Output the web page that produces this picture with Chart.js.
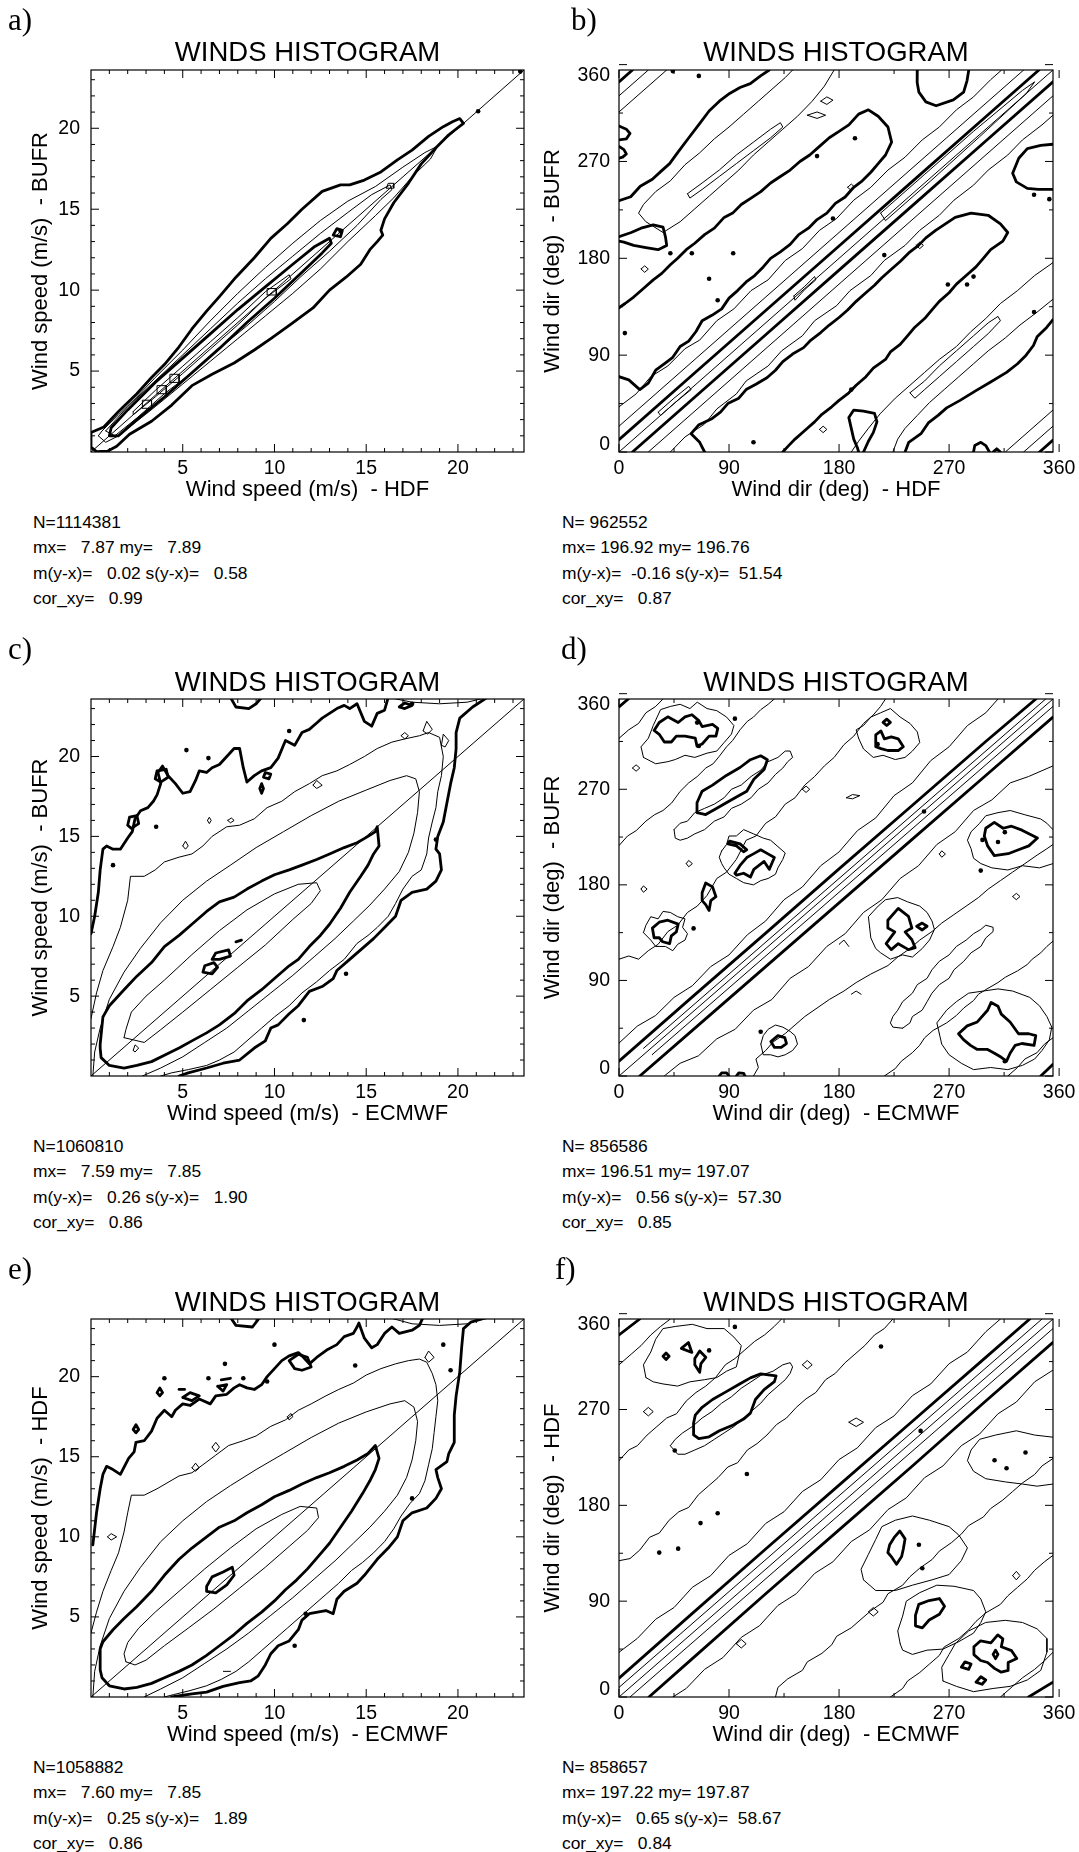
<!DOCTYPE html>
<html>
<head>
<meta charset="utf-8">
<script src="https://cdn.jsdelivr.net/npm/chart.js@4.4.1/dist/chart.umd.min.js"></script>
<style>
  body { margin: 0; background: #fff; width: 1079px; height: 1852px; position: relative; overflow: hidden; }
  canvas { position: absolute; }
  .tag { position: absolute; font-family: "Liberation Serif", "Times New Roman", serif; font-size: 31px; line-height: 31px; color: #000; }
  .stats { position: absolute; font-family: "Liberation Sans", Arial, sans-serif; font-size: 17.4px; line-height: 25.6px; white-space: pre; color: #000; }
</style>
</head>
<body>
<script>
const FONT = '"Liberation Sans", Arial, Helvetica, sans-serif';

// axis extents and tick values
const speedMax = 23.6;
const dirMax = 355;
const speedLabels = [5, 10, 15, 20];
const speedMinor = [1, 2, 3, 4, 6, 7, 8, 9, 11, 12, 13, 14, 16, 17, 18, 19, 21, 22, 23];
const dirLabels = [0, 90, 180, 270, 360];
const dirMinor = [45, 135, 225, 315];

// statistics printed under each panel
const statsA = ['N=1114381', 'mx=   7.87 my=   7.89', 'm(y-x)=   0.02 s(y-x)=   0.58', 'cor_xy=   0.99'];
const statsB = ['N= 962552', 'mx= 196.92 my= 196.76', 'm(y-x)=  -0.16 s(y-x)=  51.54', 'cor_xy=   0.87'];
const statsC = ['N=1060810', 'mx=   7.59 my=   7.85', 'm(y-x)=   0.26 s(y-x)=   1.90', 'cor_xy=   0.86'];
const statsD = ['N= 856586', 'mx= 196.51 my= 197.07', 'm(y-x)=   0.56 s(y-x)=  57.30', 'cor_xy=   0.85'];
const statsE = ['N=1058882', 'mx=   7.60 my=   7.85', 'm(y-x)=   0.25 s(y-x)=   1.89', 'cor_xy=   0.86'];
const statsF = ['N= 858657', 'mx= 197.22 my= 197.87', 'm(y-x)=   0.65 s(y-x)=  58.67', 'cor_xy=   0.84'];

// ---- a) speed BUFR vs HDF : contour lines [x, y]
const aThick = [
  [[0,1.2],[0.7,1.55],[1.5,2.5],[2.5,3.6],[3.3,4.6],[4.0,5.4],[4.8,6.5],[5.5,7.6],[6.3,8.7],[7.0,9.6],[7.9,10.8],[8.9,12.0],[9.8,13.2],[10.7,14.1],[11.5,15.0],[12.6,16.1],[13.6,16.5],[14.1,16.5],[14.9,16.8],[15.8,17.3],[16.7,18.05],[17.5,18.65],[18.4,19.5],[19.2,20.1],[19.7,20.4],[20.1,20.6],[20.3,20.3],[19.5,19.6],[18.8,18.8],[18.0,17.8],[17.3,16.6],[16.5,15.4],[16.0,14.4],[15.8,13.7],[15.9,13.4],[15.6,13.0],[15.2,12.5],[14.7,11.6],[13.9,10.8],[13.0,10.0],[12.1,8.9],[10.9,7.9],[9.8,7.0],[8.9,6.3],[7.8,5.5],[6.6,4.8],[5.5,4.1],[4.4,2.9],[3.3,1.9],[2.1,1.1],[1.4,0.36],[0.9,0.05],[0.3,0.02],[0,0.3],[0,1.2]],
  [[1.0,1.0],[1.1,1.5],[2,2.6],[3.5,4.3],[5,5.8],[6.5,7.3],[8,8.8],[9.5,10.2],[11,11.6],[12.2,12.7],[13.0,13.2],[13.1,12.9],[12.6,12.3],[11.5,11.1],[10,9.5],[8.5,8.0],[7,6.4],[5.5,4.9],[4,3.4],[2.5,2.0],[1.5,1.0],[1.0,1.0]],
  [[13.2,13.4],[13.4,13.8],[13.7,13.7],[13.6,13.3],[13.2,13.4]]
];
const aThin = [
  [[0.4,1.0],[0.6,1.3],[1.5,2.3],[2.5,3.4],[3.5,4.6],[5,6.3],[6.5,8.1],[8,9.8],[9.5,11.4],[11,12.9],[12.5,14.3],[14,15.5],[15.5,16.4],[17,17.6],[18.2,18.5],[18.9,18.9],[18.5,18.1],[17.5,17.0],[16.5,15.7],[15.5,14.6],[14,13.0],[12.5,11.3],[11,9.8],[9.5,8.4],[8,7.0],[6.5,5.6],[5,4.2],[3.5,2.8],[2.5,1.9],[1.5,1.0],[0.8,0.6],[0.4,1.0]],
  [[0.8,1.3],[2,2.8],[3.5,4.4],[5,6.0],[6.5,7.6],[8,9.2],[9.5,10.7],[11,12.1],[12.5,13.5],[14,14.8],[15.3,15.9],[16.3,16.5],[16.4,16.2],[15.8,15.6],[14.5,14.0],[13,12.4],[11.5,10.9],[10,9.3],[8.5,7.8],[7,6.4],[5.5,4.9],[4,3.6],[2.5,2.1],[1.3,1.0],[0.8,1.3]],
  [[2.3,2.5],[3.5,3.8],[5,5.3],[6.5,6.8],[8,8.3],[9.5,9.9],[10.8,10.95],[10.9,10.7],[9.5,9.5],[8,7.85],[6.5,6.35],[5,4.85],[3.5,3.4],[2.3,2.3],[2.3,2.5]],
  [[2.8,2.7],[2.8,3.2],[3.3,3.2],[3.3,2.7],[2.8,2.7]],
  [[3.6,3.6],[3.6,4.1],[4.1,4.1],[4.1,3.6],[3.6,3.6]],
  [[4.3,4.3],[4.3,4.8],[4.8,4.8],[4.8,4.3],[4.3,4.3]],
  [[9.6,9.7],[9.6,10.1],[10.1,10.1],[10.1,9.7],[9.6,9.7]],
  [[16.1,16.3],[16.2,16.6],[16.5,16.6],[16.5,16.3],[16.1,16.3]]
];
const aDots = [[13.6,13.65],[21.1,21.05],[23.4,23.5]];

// ---- b) direction BUFR vs HDF
const bThick = [
  [[0,11.5],[60,71.5],[120,131.5],[180,191.5],[240,251.5],[300,311.5],[343.5,355]],
  [[11,0],[60,49],[120,109],[180,169],[240,229],[300,289],[355,344]],
  [[0,344],[11,355]], [[344,0],[355,11]],
  [[0,233.6],[9.6,237.2],[17.4,247],[27.3,253.5],[34.3,260.8],[41.4,268],[48.4,278.9],[56.8,291.6],[65.3,304.2],[73.7,316.9],[82.1,326],[90.5,333.2],[99,338.7],[107.4,342.3],[115.8,349.5],[122.9,355]],
  [[234,0],[237,9],[247,17],[253,27],[261,34],[268,41],[279,48],[292,57],[304,65],[317,74],[326,82],[333,90],[339,99],[342,107],[350,116],[355,123]],
  [[0,70],[8,67],[17,58],[24,64],[30,76],[37,82],[44,88],[50,98],[57,103],[63,112],[68,122],[76,127],[84,133],[90,143],[97,150],[104,158],[111,164],[118,172],[124,180],[132,186],[140,193],[147,202],[155,208],[162,216],[170,222],[177,231],[185,237],[192,246],[199,252],[206,260],[212,268],[218,276],[223,288],[220,302],[212,312],[204,318],[196,314],[188,304],[180,298],[172,292],[164,284],[156,276],[148,270],[140,262],[132,256],[124,250],[116,242],[108,236],[100,230],[93,222],[86,218],[78,208],[70,202],[62,194],[55,188],[48,180],[42,174],[35,166],[28,160],[20,152],[12,144],[5,138],[0,134]],
  [[244,355],[243.9,343.4],[245.3,334.4],[251,325.4],[259.4,321.8],[273.5,327.2],[281.9,334.4],[284.7,345.2],[286.1,355]],
  [[70,0],[66,9],[59,17],[65,25],[76,31],[83,37],[89,45],[98,50],[104,58],[112,63],[121,69],[128,76],[134,84],[142,91],[151,97],[157,104],[165,111],[172,118],[180,125],[187,132],[194,140],[201,147],[209,155],[215,162],[223,170],[230,177],[237,185],[245,192],[251,199],[259,206],[267,212],[275,218],[288,222],[302,220],[312,212],[318,204],[314,196],[304,188],[298,180],[292,172],[284,164],[276,156],[270,148],[262,140],[256,132],[250,124],[242,116],[236,108],[230,100],[222,93],[218,86],[208,78],[202,70],[194,62],[188,55],[180,48],[174,42],[166,35],[160,28],[152,20],[144,12],[138,5],[134,0]],
  [[355,244],[343,244],[334,245],[325,251],[322,259],[327,273],[334,282],[345,285],[355,286]],
  [[0,303],[6,300],[9,296],[6,291],[0,290]], [[0,284],[4,281],[6,277],[3,274],[0,273]],
  [[303,0],[300,6],[296,9],[291,6],[290,0]], [[306,0],[309,3],[312,0]],
  [[0,200],[10,204],[18,208],[28,211],[36,209],[38,200],[39,192],[32,188],[22,190],[12,192],[4,195],[0,196]],
  [[200,0],[204,10],[208,18],[211,28],[209,36],[200,38],[192,39],[188,32],[190,22],[192,12],[195,4],[196,0]]
];
const bThin = [
  [[0,24],[331,355]], [[24,0],[355,331]],
  [[0,42],[14,54],[26,70],[40,80],[54,96],[66,104],[80,122],[94,133],[108,150],[122,160],[136,178],[150,189],[164,206],[178,217],[192,234],[206,246],[220,262],[234,274],[248,290],[262,302],[276,318],[290,330],[304,346],[313,355]],
  [[42,0],[54,14],[70,26],[80,40],[96,54],[104,66],[122,80],[133,94],[150,108],[160,122],[178,136],[189,150],[206,164],[217,178],[234,192],[246,206],[262,220],[274,234],[290,248],[302,262],[318,276],[330,290],[346,304],[355,313]],
  [[0,331],[24,355]], [[0,316],[39,355]], [[331,0],[355,24]], [[316,0],[355,39]],
  [[32,37],[45,50],[57,61],[59,58],[46,46],[34,34],[32,37]],
  [[143,145],[152,154],[160,163],[161,160],[152,151],[144,141],[143,145]],
  [[214,222],[250,258],[290,298],[330,336],[340,344],[333,333],[295,293],[255,252],[218,215],[214,222]],
  [[142,355],[136,348],[126,338],[114,326],[102,314],[90,302],[78,291],[66,278],[54,267],[42,252],[30,242],[20,230],[16,222],[22,214],[36,204],[50,214],[62,226],[74,238],[86,250],[98,262],[110,276],[122,288],[134,300],[146,312],[158,326],[168,340],[176,355]],
  [[56,240],[68,250],[82,262],[96,276],[110,288],[124,300],[132,306],[134,302],[124,292],[110,280],[96,268],[82,256],[68,244],[58,236],[56,240]],
  [[355,176],[340,164],[326,150],[312,138],[300,124],[288,112],[276,98],[262,86],[250,74],[238,62],[226,50],[214,36],[204,22],[196,10],[190,0]],
  [[355,142],[342,130],[328,118],[316,106],[302,94],[290,82],[278,70],[266,58],[254,46],[244,34],[234,22],[228,12],[224,0]],
  [[238,55],[250,66],[262,80],[276,94],[290,108],[302,120],[310,126],[312,122],[302,110],[290,98],[276,84],[262,70],[250,58],[242,50],[238,55]],
  [[165,326],[170,330],[175,327],[170,323],[165,326]],
  [[154,313],[162,316],[169,313],[162,310],[154,313]],
  [[18,170],[21,173],[24,170],[21,167],[18,170]],
  [[164,21],[167,24],[170,21],[167,18],[164,21]],
  [[243,192],[246,195],[249,192],[246,189],[243,192]],
  [[187,246],[190,249],[193,246],[190,243],[187,246]]
];
const bDots = [[65.3,349.5],[44,354],[42,184.7],[59.6,184.7],[73.7,161],[80.7,141],[4.8,110.5],[110,9],[190,58],[175,217],[162,275],[193,291.6],[269,155.7],[284.7,155.7],[290,163],[339.5,130],[339.5,239],[352,235],[93.4,184.7],[217,183]];

// ---- c) speed BUFR vs ECMWF
const cThick = [
  [[0,8.9],[0.2,10],[0.4,11.5],[0.5,12.9],[0.65,14.2],[0.85,14.4],[1.2,14.2],[1.6,14.2],[2.0,14.9],[2.25,15.3],[2.4,16.1],[2.7,16.6],[3.1,16.8],[3.4,17.2],[3.6,17.6],[3.8,18.3],[3.65,19.0],[3.9,19.4],[4.2,18.8],[4.6,18.3],[5.0,17.7],[5.4,17.8],[5.7,18.5],[5.9,19.1],[6.3,19.0],[6.6,19.3],[7.0,19.5],[7.4,20.0],[7.8,20.5],[8.1,20.5],[8.3,19.3],[8.5,18.4],[8.9,18.8],[9.3,19.1],[9.8,19.3],[10.2,19.9],[10.6,21.0],[11.1,20.7],[11.5,21.5],[11.9,21.7],[12.3,22.1],[12.6,22.4],[13.0,22.7],[13.4,23.0],[13.8,23.2],[14.1,23.0],[14.5,23.3],[14.9,22.2],[15.3,21.9],[15.6,22.7],[16.0,22.9],[16.2,23.7]],
  [[21.6,23.7],[20.8,23.1],[20.1,22.4],[19.9,21.5],[19.9,20.5],[19.8,19.3],[19.6,18.3],[19.4,17.1],[19.2,15.9],[18.9,15.0],[18.8,14.2],[19.0,13.9],[19.1,12.9],[18.8,12.2],[18.3,11.7],[17.5,11.5],[16.9,11.0],[16.6,10.0],[16.0,9.3],[15.4,8.6],[14.9,8.1],[14.1,7.3],[13.4,6.6],[13.2,6.1],[12.6,5.6],[11.9,5.3],[11.3,4.4],[10.8,3.9],[10.2,3.2],[9.8,3.0],[9.5,2.2],[8.9,1.75],[8.1,1.0],[7.2,0.8],[6.3,0.5],[5.3,0.2],[4.8,0]],
  [[7.6,23.7],[7.9,23.1],[8.6,23.0],[9.0,23.3],[9.3,23.7]],
  [[16.8,23.1],[17.1,23.35],[17.5,23.2],[17.1,23.0],[16.8,23.1]],
  [[0.5,1.75],[0.5,2.0],[0.65,3.7],[1.0,4.4],[1.8,5.4],[2.5,6.25],[3.3,7.1],[4.0,8.1],[4.8,8.8],[5.5,9.5],[6.3,10.3],[7.0,10.9],[7.8,11.2],[8.5,11.7],[9.3,12.2],[10.0,12.6],[10.8,12.9],[11.5,13.2],[12.3,13.55],[13.0,13.9],[13.8,14.3],[14.5,14.6],[15.1,15.0],[15.5,15.3],[15.6,15.6],[15.7,14.4],[15.4,13.9],[15.1,13.2],[14.7,12.5],[14.1,11.5],[13.6,10.5],[13.0,9.5],[12.5,8.8],[11.9,8.1],[11.3,7.3],[10.8,6.9],[10.0,6.1],[9.3,5.4],[8.5,4.7],[7.8,3.9],[7.0,3.2],[6.3,2.7],[5.5,2.2],[4.8,1.75],[4.0,1.3],[3.3,0.9],[2.5,0.66],[1.8,0.5],[1.0,0.66],[0.55,1.15],[0.5,1.75]],
  [[6.1,6.5],[6.2,6.9],[6.7,7.1],[6.9,6.8],[6.6,6.4],[6.1,6.5]],
  [[6.6,7.3],[6.8,7.7],[7.5,7.9],[7.6,7.5],[7.0,7.3],[6.6,7.3]],
  [[7.9,8.4],[8.2,8.5]],
  [[2.0,15.7],[2.1,16.2],[2.5,16.3],[2.6,15.8],[2.2,15.5],[2.0,15.7]],
  [[3.5,18.6],[3.6,19.1],[4.1,19.2],[4.2,18.7],[3.8,18.4],[3.5,18.6]],
  [[9.4,18.7],[9.5,19.0],[9.8,18.9],[9.7,18.6],[9.4,18.7]],
  [[9.3,17.7],[9.2,18.0],[9.3,18.3],[9.4,18.0],[9.3,17.7]]
];
const cThin = [
  [[0,3.6],[0.3,5.2],[0.65,6.6],[1.2,8.1],[1.6,9.3],[2.0,11.0],[2.15,12.5],[2.9,12.5],[3.5,12.9],[4.0,13.4],[4.8,13.7],[5.5,13.9],[6.1,14.4],[6.6,15.0],[7.4,15.6],[8.1,15.7],[8.9,16.1],[9.6,16.8],[10.4,17.2],[11.1,17.8],[11.9,18.3],[12.6,18.8],[13.4,19.1],[14.1,19.5],[14.9,20.0],[15.6,20.5],[16.4,20.9],[17.1,21.1],[17.9,21.3],[18.4,21.5],[19.0,21.2],[19.2,20.0],[19.1,18.8],[18.9,17.8],[18.8,16.8],[18.6,15.9],[18.4,14.9],[18.3,13.9],[18.0,12.9],[17.5,12.5],[17.0,11.7],[16.6,10.8],[16.2,10.0],[15.6,9.3],[15.1,8.8],[14.5,8.3],[13.8,7.3],[13.0,6.6],[12.3,5.9],[11.5,5.2],[10.8,4.4],[10.0,3.7],[9.3,3.0],[8.5,2.2],[7.8,1.5],[7.0,1.0],[6.3,0.66],[5.3,0.4],[4.4,0.2],[3.8,0]],
  [[0.1,0],[0.2,1.5],[0.5,3.0],[1.0,4.8],[1.8,6.5],[2.7,8.0],[3.8,9.6],[5,11.0],[6.3,12.2],[7.6,13.2],[9,14.3],[10.5,15.3],[12,16.3],[13.5,17.2],[15,17.9],[16.3,18.5],[17.2,18.8],[17.7,18.6],[17.9,17.8],[17.8,16.5],[17.6,15.2],[17.3,14.0],[16.8,12.8],[16.0,11.7],[15.2,10.7],[14.3,9.7],[13.3,8.6],[12.2,7.5],[11.0,6.3],[9.8,5.2],[8.6,4.1],[7.4,3.0],[6.2,2.1],[5.0,1.2],[3.8,0.5],[2.8,0]],
  [[1.8,2.4],[1.9,2.9],[2.2,4.0],[3,5.0],[4,6.0],[5.5,7.6],[7,9.1],[8.5,10.4],[10,11.4],[11.3,12.0],[12.3,12.1],[12.5,11.6],[12,10.8],[11,9.8],[9.5,8.2],[8,6.8],[6.5,5.4],[5,4.0],[3.8,2.9],[2.9,2.1],[1.8,2.4]],
  [[2.3,1.6],[2.4,1.95],[2.6,1.75],[2.4,1.5],[2.3,1.6]],
  [[5.0,14.4],[5.15,14.7],[5.3,14.4],[5.15,14.2],[5.0,14.4]],
  [[6.35,16.0],[6.45,16.2],[6.55,16.0],[6.45,15.8],[6.35,16.0]],
  [[7.45,16.0],[7.65,16.15],[7.8,16.0],[7.6,15.85],[7.45,16.0]],
  [[12.1,18.2],[12.3,18.5],[12.6,18.2],[12.3,18.0],[12.1,18.2]],
  [[16.9,21.3],[17.1,21.5],[17.3,21.3],[17.1,21.1],[16.9,21.3]],
  [[18.1,21.6],[18.3,22.2],[18.6,21.7],[18.35,21.4],[18.1,21.6]],
  [[19.1,20.7],[19.2,21.4],[19.5,21.0],[19.3,20.6],[19.1,20.7]],
  [[16.2,23.7],[17.5,23.4],[19.0,23.3],[20.5,23.4],[21.6,23.7]]
];
const cDots = [[3.55,15.6],[5.2,20.4],[6.4,19.9],[10.8,21.6],[1.2,13.2],[13.9,6.4],[11.6,3.5],[18.8,14.8],[17.5,23.3]];

// ---- d) direction BUFR vs ECMWF
const dThick = [
  [[0,14],[60,74.5],[120,134.5],[180,195],[240,255],[300,315],[341,355]],
  [[17,0],[60,43],[120,103],[180,163],[240,223],[300,283],[355,338]],
  [[0,347.6],[7.6,355]], [[345,0],[355,11]],
  [[28.7,325.4],[32.9,332.9],[39.9,338.2],[48.4,332.9],[54,338.2],[59.7,340.2],[65.3,334.6],[68,329.1],[76.5,331],[80.8,327.4],[79.3,320],[73.7,320],[68,312.6],[63.8,310.6],[62.4,318.1],[54,320],[46.9,320],[42.8,314.5],[37.1,314.5],[32.9,321.8],[28.7,325.4]],
  [[63.8,257.3],[68,268.2],[76.5,273.9],[87.8,283],[99,290.5],[107.5,297.8],[115.9,301.5],[121.4,297.8],[118.7,288.6],[110.3,279.4],[104.5,268.2],[96.1,262.8],[87.8,257.3],[79.3,251.7],[70.9,246.2],[63.8,248.1],[63.8,257.3]],
  [[89.1,218.6],[96.1,216.7],[101.9,211.2],[104.5,213],[99,218.6],[90.5,221.2],[89.1,218.6]],
  [[94.8,190.9],[99,198.3],[104.5,205.7],[110.3,209.4],[115.9,213],[121.5,209.4],[127.1,205.7],[122.9,194.6],[118.7,202],[110.3,194.6],[107.5,187.3],[101.9,190.9],[96.1,189.1],[94.8,190.9]],
  [[68,172.6],[70.9,181.7],[76.5,178.1],[79.3,168.8],[75.1,165.2],[73.7,155.9],[70.9,161.4],[68,165.2],[68,172.6]],
  [[27.3,139.3],[32.9,144.8],[39.9,146.7],[48.4,143],[46.9,135.7],[42.8,131.9],[41.4,124.6],[35.7,126.4],[32.9,130.2],[28.7,130.2],[27.3,139.3]],
  [[210,321.2],[214.3,324.9],[217.1,317.5],[222.7,319.4],[228.4,317.5],[232.6,310.1],[228.4,306.5],[219.9,306.5],[214.3,308.3],[210,310.1],[210,321.2]],
  [[216,333],[219,336],[222,333],[219,330],[216,333]],
  [[300,233.3],[307,238.8],[314.2,233.3],[321.1,235.2],[329.6,231.5],[342.3,224.1],[335.2,216.7],[326.8,213],[318.3,209.3],[307,207.5],[301.5,216.7],[298.8,226],[300,233.3]],
  [[219.9,146.7],[228.4,157.8],[236.8,150.4],[239.6,139.3],[234,135.7],[239.6,128.3],[242.3,120.8],[236.8,119],[228.4,124.6],[222.7,119],[218.5,124.6],[225.6,135.7],[219.9,139.3],[219.9,146.7]],
  [[243.5,141],[248,144],[252,141],[248,137.5],[243.5,141]],
  [[277.7,39.8],[284.8,47.2],[293.1,50.9],[301.5,61.9],[304.4,69.3],[310,65.7],[312.7,58.3],[319.9,50.9],[326.8,39.8],[335.2,39.8],[340.9,38],[339.5,28.8],[329.6,30.6],[324,28.8],[319.9,21.4],[317,14],[312.7,17.6],[307.1,21.4],[301.5,25],[293.1,25],[287.5,28.8],[281.8,34.3],[277.7,39.8]],
  [[124.2,32.4],[130,38],[135.6,36.1],[137,30.6],[132.7,26.9],[127.2,26.9],[124.2,32.4]],
  [[82,0],[84,3],[88,3],[90,0]], [[96,0],[98,3],[102,2.5],[103,0]]
];
const dThin = [
  [[20,26],[349,355]], [[27,20],[355,348]],
  [[0,31],[15,47],[30,57],[45,74],[60,85],[75,103],[90,114],[105,133],[120,146],[135,166],[150,178],[165,198],[180,211],[195,231],[210,243],[225,264],[240,276],[255,297],[270,310],[285,330],[300,342],[310,355]],
  [[37,0],[50,12],[65,19],[80,35],[95,44],[110,62],[125,72],[140,92],[155,103],[170,122],[185,134],[200,154],[215,166],[230,186],[245,198],[260,218],[275,230],[290,250],[305,260],[320,276],[335,282],[355,292]],
  [[0,110],[8,113],[16,110],[24,118],[32,124],[40,136],[48,142],[56,154],[64,160],[72,170],[80,186],[88,192],[96,204],[104,222],[112,226],[120,238],[128,244],[136,256],[144,262],[152,274],[160,282],[168,292],[176,300],[184,312],[192,320],[200,332],[208,340],[214,348],[218,355]],
  [[0,217],[7,226],[14,231],[22,240],[29,246],[36,250],[43,257],[50,268],[57,276],[64,282],[71,290],[77,294],[82,301],[88,310],[93,316],[99,326],[105,334],[110,338],[116,345],[122,350],[127,355]],
  [[0,318],[8,326],[16,332],[22,342],[30,348],[36,355]],
  [[45,232],[50,238],[56,240],[62,248],[70,252],[78,256],[86,262],[92,270],[100,274],[108,282],[116,288],[122,296],[130,300],[136,306],[140,306],[142,300],[138,296],[134,290],[128,284],[122,276],[114,270],[108,262],[100,256],[92,252],[86,244],[78,240],[70,232],[62,228],[56,224],[50,222],[46,224],[45,232]],
  [[84,212],[88,218],[90,226],[96,226],[102,232],[110,228],[118,224],[124,222],[130,216],[136,210],[134,204],[130,196],[128,190],[122,186],[116,184],[110,180],[102,182],[96,186],[90,190],[86,196],[84,200],[82,206],[84,212]],
  [[20,135],[22,142],[26,150],[32,148],[36,155],[42,154],[48,150],[54,148],[52,140],[56,134],[54,128],[48,124],[44,118],[38,122],[30,122],[26,128],[20,135]],
  [[20,300],[18,310],[24,318],[28,330],[34,345],[42,348],[50,350],[58,346],[64,352],[72,346],[80,344],[88,338],[94,330],[92,322],[86,314],[80,306],[72,304],[62,300],[54,302],[46,298],[40,296],[30,294],[20,300]],
  [[196,318],[194,326],[200,330],[206,338],[214,342],[222,346],[230,338],[238,332],[244,324],[246,314],[240,306],[234,300],[226,298],[216,302],[208,300],[200,308],[196,318]],
  [[110,0],[114,8],[112,16],[120,24],[126,32],[136,40],[144,48],[152,56],[162,64],[172,72],[184,80],[194,88],[206,96],[220,104],[228,112],[238,120],[246,128],[256,136],[264,144],[274,152],[284,160],[294,168],[302,176],[312,184],[322,192],[332,200],[342,208],[350,214],[355,218]],
  [[217,0],[226,7],[231,14],[240,22],[246,29],[250,36],[257,43],[268,50],[276,57],[282,64],[290,71],[294,77],[301,82],[310,88],[316,93],[326,99],[334,105],[338,110],[345,116],[350,122],[355,127]],
  [[318,0],[326,8],[332,16],[342,22],[348,30],[355,36]],
  [[232,45],[238,50],[240,56],[248,62],[252,70],[256,78],[262,86],[270,92],[274,100],[282,108],[288,116],[296,122],[300,130],[306,136],[306,140],[300,142],[296,138],[290,134],[284,128],[276,122],[270,114],[262,108],[256,100],[252,92],[244,86],[240,78],[232,70],[228,62],[224,56],[222,50],[224,46],[232,45]],
  [[205,140],[204,150],[212,160],[218,166],[228,168],[236,164],[246,160],[252,154],[256,146],[258,138],[254,128],[248,120],[240,112],[232,114],[222,110],[214,116],[210,120],[206,130],[205,140]],
  [[355,200],[344,196],[330,198],[318,194],[305,196],[296,200],[290,205],[288,214],[285,222],[288,230],[295,238],[300,245],[310,248],[320,250],[332,246],[345,242],[350,238],[355,232]],
  [[262,40],[260,50],[268,62],[276,70],[286,78],[298,80],[310,82],[322,80],[336,74],[344,66],[350,56],[354,46],[352,34],[346,24],[340,16],[330,10],[318,6],[304,8],[290,6],[280,12],[270,20],[264,30],[262,40]],
  [[116,30],[118,38],[122,44],[128,48],[134,46],[140,42],[144,38],[146,30],[142,24],[136,20],[130,18],[124,20],[118,20],[116,30]],
  [[11,290],[14,293],[17,290],[14,287],[11,290]],
  [[18,176],[20,179],[23,176],[20,173],[18,176]],
  [[55,200],[57,203],[60,200],[57,197],[55,200]],
  [[150,270],[153,273],[156,270],[153,267],[150,270]],
  [[186,262],[191,265],[197,264],[191,261],[186,262]],
  [[262,209],[264,212],[267,209],[264,206],[262,209]],
  [[322,169],[325,172],[328,169],[325,166],[322,169]],
  [[180,124],[184,128],[188,122]], [[190,77],[194,80],[198,77]]
];
const dDots = [[61,139],[63.9,332.8],[65.3,310.7],[94.8,336.5],[115.9,41.7],[211.5,312.5],[297.3,222.3],[310,220.4],[315.6,229.6],[295.9,193.4],[249.5,249],[315.6,14]];

// ---- e) speed HDF vs ECMWF
const eThick = [
  [[0.1,9.5],[0.3,11.5],[0.5,13.0],[0.65,13.9],[0.85,14.4],[1.2,14.2],[1.6,13.9],[2.05,14.9],[2.35,15.3],[2.45,15.9],[2.9,16.0],[3.3,16.6],[3.6,17.4],[4.0,17.9],[4.4,17.5],[4.6,17.9],[5.0,18.3],[5.4,18.2],[5.9,18.6],[6.5,18.3],[6.8,18.8],[7.4,18.9],[7.8,19.3],[8.1,19.5],[8.5,19.3],[8.9,19.2],[9.3,19.5],[9.6,20.0],[10.0,20.5],[10.4,21.0],[10.8,21.3],[11.3,21.5],[11.5,21.3],[11.9,20.8],[12.3,21.2],[12.9,21.7],[13.4,22.0],[13.8,22.5],[14.3,22.7],[14.5,23.1],[14.6,23.35],[14.9,22.4],[15.3,21.8],[15.6,22.0],[16.0,22.7],[16.4,23.1],[16.8,22.7],[17.5,22.9],[17.9,23.2],[18.1,23.7]],
  [[21.6,23.7],[20.7,23.4],[20.3,23.0],[20.2,21.8],[20.1,20.3],[19.9,18.8],[19.8,17.6],[19.8,15.9],[19.5,15.2],[19.4,14.7],[18.8,14.2],[18.9,13.7],[19.1,13.0],[18.8,12.4],[18.3,11.8],[17.5,11.5],[17.0,11.0],[16.7,10.0],[16.2,9.3],[15.6,8.6],[14.9,7.6],[14.5,7.1],[13.8,6.6],[13.4,6.1],[13.2,5.2],[12.8,5.4],[11.9,5.2],[11.5,4.8],[11.3,4.2],[10.8,3.5],[10.2,3.2],[9.8,2.7],[9.5,2.0],[9.1,1.3],[8.7,1.0],[8.1,0.9],[7.2,0.66],[6.3,0.3],[5.5,0.2],[4.4,0]],
  [[7.6,23.7],[7.9,23.2],[8.8,23.1],[9.2,23.7]],
  [[0.5,1.7],[0.5,3.0],[0.65,3.45],[1.2,4.2],[1.8,4.9],[2.5,5.65],[3.3,6.6],[4.0,7.6],[4.8,8.6],[5.5,9.3],[6.3,10.0],[7.0,10.6],[7.8,11.0],[8.5,11.5],[9.3,12.0],[10.0,12.5],[10.8,12.9],[11.5,13.3],[12.3,13.7],[13.0,14.0],[13.8,14.4],[14.5,14.8],[15.1,15.2],[15.5,15.7],[15.7,14.9],[15.5,14.2],[15.2,13.5],[14.8,12.7],[14.2,11.6],[13.6,10.6],[13.0,9.6],[12.4,8.8],[11.8,8.0],[11.2,7.3],[10.6,6.7],[10.0,6.0],[9.3,5.3],[8.5,4.6],[7.8,3.9],[7.0,3.2],[6.3,2.6],[5.5,2.0],[4.8,1.6],[4.0,1.2],[3.3,0.85],[2.5,0.6],[1.8,0.5],[1.0,0.7],[0.6,1.2],[0.5,1.7]],
  [[6.3,6.9],[6.6,7.5],[7.2,7.8],[7.7,8.1],[7.8,7.6],[7.4,7.0],[6.8,6.5],[6.3,6.6],[6.3,6.9]],
  [[10.8,21.0],[11.3,21.4],[11.8,21.2],[12.0,20.6],[11.5,20.4],[11.1,20.5],[10.8,21.0]],
  [[5.0,18.7],[5.4,19.0],[5.9,18.8],[5.5,18.5],[5.0,18.7]],
  [[2.3,16.7],[2.45,17.0],[2.6,16.7],[2.45,16.5],[2.3,16.7]],
  [[3.6,19.0],[3.75,19.3],[3.9,19.0],[3.75,18.8],[3.6,19.0]],
  [[6.9,19.4],[7.4,19.5],[7.2,19.1],[6.9,19.4]],
  [[7.1,19.8],[7.6,19.9]], [[4.8,19.2],[5.1,19.2]]
];
const eThin = [
  [[0,4.0],[0.3,5.3],[0.65,6.6],[1.1,7.9],[1.5,9.0],[1.8,10.3],[2.0,11.5],[2.2,12.6],[2.9,12.6],[3.6,13.0],[4.2,13.4],[4.8,13.8],[5.5,14.0],[6.1,14.5],[6.8,15.1],[7.5,15.7],[8.3,16.0],[9.0,16.3],[9.8,16.9],[10.6,17.3],[11.3,17.9],[12.0,18.3],[12.8,18.8],[13.5,19.2],[14.3,19.6],[15.0,20.1],[15.8,20.5],[16.6,20.8],[17.3,21.0],[17.9,21.1],[18.3,20.9],[18.6,20.2],[18.8,19.5],[18.9,18.5],[18.8,17.5],[18.7,16.5],[18.6,15.5],[18.4,14.5],[18.2,13.5],[17.9,12.7],[17.4,12.1],[16.9,11.3],[16.5,10.5],[16.0,9.7],[15.4,9.0],[14.8,8.4],[14.2,7.9],[13.5,7.1],[12.8,6.4],[12.1,5.7],[11.4,5.0],[10.7,4.3],[10.0,3.6],[9.3,2.9],[8.6,2.2],[7.9,1.6],[7.1,1.1],[6.3,0.7],[5.4,0.4],[4.5,0.15],[4.0,0]],
  [[0.1,0],[0.2,1.6],[0.5,3.2],[1.0,4.9],[1.8,6.6],[2.7,8.1],[3.8,9.7],[5,11.0],[6.3,12.2],[7.6,13.2],[9,14.2],[10.5,15.2],[12,16.2],[13.5,17.1],[15,17.8],[16.3,18.3],[17.1,18.5],[17.6,18.1],[17.8,17.2],[17.7,16.0],[17.5,14.8],[17.2,13.7],[16.7,12.6],[16.0,11.6],[15.2,10.6],[14.3,9.6],[13.3,8.5],[12.2,7.4],[11.0,6.2],[9.8,5.1],[8.6,4.0],[7.4,3.0],[6.2,2.1],[5.0,1.2],[3.8,0.5],[2.9,0]],
  [[1.9,2.2],[1.8,2.7],[2.0,3.4],[2.6,4.3],[3.5,5.3],[4.8,6.6],[6.2,8.0],[7.6,9.3],[9.0,10.5],[10.4,11.4],[11.4,11.9],[12.3,11.8],[12.4,11.2],[11.8,10.4],[10.8,9.4],[9.5,8.1],[8.1,6.8],[6.7,5.5],[5.3,4.3],[4.0,3.2],[3.0,2.3],[2.4,2.0],[1.9,2.2]],
  [[0.9,10.0],[1.1,10.2],[1.4,10.0],[1.1,9.8],[0.9,10.0]],
  [[5.5,14.3],[5.7,14.6],[5.9,14.3],[5.7,14.1],[5.5,14.3]],
  [[6.6,15.6],[6.8,15.9],[7.0,15.6],[6.8,15.3],[6.6,15.6]],
  [[18.2,21.2],[18.4,21.6],[18.7,21.2],[18.4,20.9],[18.2,21.2]],
  [[10.7,17.5],[10.9,17.7],[11.0,17.5],[10.8,17.3],[10.7,17.5]],
  [[7.2,1.6],[7.6,1.6]],
  [[16.2,23.7],[17.5,23.3],[19,23.2],[20.5,23.3],[21.6,23.7]]
];
const eDots = [[4.0,19.9],[6.4,19.9],[8.3,19.9],[9.6,19.7],[14.4,20.7],[17.5,12.4],[11.7,5.2],[11.1,3.2],[10.0,22.0],[7.3,20.8],[19.2,22.0],[19.6,20.4]];

// ---- f) direction HDF vs ECMWF
const fThick = [
  [[0,17.7],[60,78.5],[120,139],[180,199],[240,259],[300,319],[336,355]],
  [[24.5,0],[60,36],[120,97],[180,157],[240,217],[300,278],[355,333]],
  [[0,340],[17,355]], [[335,0],[355,14]],
  [[61,257.3],[62.4,264.7],[68,272.1],[76.5,279.4],[87.8,286.8],[99,294.2],[107.5,299.7],[115.9,303.5],[128.5,301.6],[127.1,296.1],[118.7,288.7],[111.6,279.4],[107.5,266.6],[101.9,261],[93.4,255.5],[82.1,250],[73.7,244.4],[65.3,242.6],[61,246.2],[61,257.3]],
  [[242.5,76.7],[245.2,87],[253.7,90.6],[262.1,92.5],[266.3,85.2],[262.1,77.8],[253.7,72.3],[248.1,64.9],[242.5,66.8],[242.5,76.7]],
  [[290.3,47.2],[295.8,52.8],[304.2,50.9],[309.8,58.3],[314,54.5],[312.7,47.2],[321.1,43.5],[325.4,36.1],[318.3,32.4],[318.3,25],[312.7,23.3],[307.1,26.9],[301.5,32.4],[295.8,34.3],[290.3,39.8],[290.3,47.2]],
  [[280,28],[283,33],[288,31],[286,26],[280,28]],
  [[292,14],[296,19],[300,16],[297,12],[292,14]],
  [[306,40],[308,44],[310,40],[308,36],[306,40]],
  [[221.4,143],[225.5,150.4],[229.7,155.9],[234,148.5],[232.6,139.3],[231.2,131.9],[227,124.6],[222.7,131.9],[219.9,135.7],[221.4,143]],
  [[51,327.4],[56.8,332.9],[59.6,323.6],[51,327.4]],
  [[62,318],[66,325],[71,319],[67,313],[66,305],[62,312],[62,318]],
  [[36,320],[38.5,323],[41,320],[38.5,317],[36,320]]
];
const fThin = [
  [[0,9],[346,355]], [[9,0],[355,346]],
  [[0,42],[15,55],[30,73],[45,84],[60,103],[75,114],[90,133],[105,144],[120,163],[135,174],[150,193],[165,204],[180,223],[195,234],[210,253],[225,264],[240,283],[255,294],[270,313],[285,324],[300,343],[312,355]],
  [[44,0],[55,8],[70,26],[85,37],[100,56],[115,67],[130,86],[145,97],[160,116],[175,127],[190,146],[205,157],[220,176],[235,187],[250,206],[265,217],[280,236],[295,247],[310,266],[325,277],[340,296],[355,307]],
  [[0,128],[9,130],[17,138],[25,150],[33,154],[41,166],[49,174],[57,178],[65,190],[73,198],[81,206],[89,216],[97,220],[105,232],[113,238],[121,246],[129,256],[137,262],[145,272],[153,280],[161,286],[169,298],[177,304],[185,314],[193,322],[201,330],[209,340],[217,346],[224,355]],
  [[0,222],[8,232],[15,236],[23,246],[31,254],[39,262],[47,266],[55,278],[63,286],[71,292],[79,300],[87,312],[95,318],[103,326],[111,334],[119,340],[127,348],[133,355]],
  [[0,312],[10,322],[18,330],[26,340],[34,348],[42,355]],
  [[42,236],[46,242],[52,248],[60,254],[68,262],[76,268],[84,276],[92,282],[100,290],[108,296],[116,302],[126,306],[134,312],[140,314],[142,310],[140,304],[136,298],[130,292],[122,284],[116,276],[108,268],[102,262],[94,254],[86,248],[78,242],[70,236],[62,232],[54,228],[48,228],[42,236]],
  [[22,300],[20,312],[26,324],[30,336],[36,346],[46,348],[60,350],[72,346],[86,346],[94,338],[100,330],[98,320],[96,310],[88,306],[80,300],[70,298],[58,296],[48,292],[36,294],[28,296],[22,300]],
  [[128,0],[130,9],[138,17],[150,25],[154,33],[166,41],[174,49],[178,57],[190,65],[198,73],[206,81],[216,89],[220,97],[232,105],[238,113],[246,121],[256,129],[262,137],[272,145],[280,153],[286,161],[298,169],[304,177],[314,185],[322,193],[330,201],[340,209],[346,217],[355,224]],
  [[222,0],[232,8],[236,15],[246,23],[254,31],[262,39],[266,47],[278,55],[286,63],[292,71],[300,79],[312,87],[318,95],[326,103],[334,111],[340,119],[348,127],[355,133]],
  [[312,0],[322,10],[330,18],[340,26],[348,34],[355,42]],
  [[200,110],[198,120],[204,134],[210,148],[215,160],[226,166],[240,170],[254,166],[270,160],[278,152],[285,140],[280,128],[270,115],[256,110],[240,105],[226,100],[210,100],[200,110]],
  [[230,50],[228,62],[232,76],[235,90],[246,98],[260,105],[274,104],[290,100],[296,92],[300,80],[296,70],[290,60],[278,52],[265,45],[252,44],[240,40],[232,44],[230,50]],
  [[265,15],[264,28],[270,40],[275,50],[286,62],[300,70],[316,72],[330,70],[342,64],[350,55],[350,42],[345,25],[334,16],[320,10],[306,8],[290,5],[276,10],[265,15]],
  [[355,200],[342,198],[330,200],[316,202],[300,205],[290,212],[285,222],[288,232],[295,242],[308,246],[325,250],[340,246],[355,244]],
  [[20,268],[24,272],[28,268],[24,264],[20,268]],
  [[188,258],[194,262],[200,258],[194,254],[188,258]],
  [[150,312],[154,316],[158,312],[154,308],[150,312]],
  [[96,50],[100,54],[104,50],[100,46],[96,50]],
  [[204,80],[208,84],[212,80],[208,76],[204,80]],
  [[322,114],[325,118],[328,114],[325,110],[322,114]]
];
const fDots = [[94.8,347.6],[73.7,325.5],[45.6,231.5],[104.6,209.4],[80.7,172.5],[66.7,163.3],[48.4,139.3],[32.9,135.6],[246.7,249.9],[214.3,329.2],[307.2,222.3],[317,214.9],[332.5,229.6],[245.3,143],[248.1,120.9]];

// page geometry of the three rows (plot box top / bottom, title centre)
const rowTop = [70, 699, 1319];
const rowBottom = [452, 1076, 1697];
const titleMid = [53, 683.6, 1303.6];

const panels = [
  { tag: 'a)', col: 0, row: 0, kind: 'speed', xTitle: 'Wind speed (m/s)  - HDF', yTitle: 'Wind speed (m/s)  - BUFR', thick: aThick, thin: aThin, dots: aDots, stats: statsA, tagX: 8 },
  { tag: 'b)', col: 1, row: 0, kind: 'dir', xTitle: 'Wind dir (deg)  - HDF', yTitle: 'Wind dir (deg)  - BUFR', thick: bThick, thin: bThin, dots: bDots, stats: statsB, tagX: 571 },
  { tag: 'c)', col: 0, row: 1, kind: 'speed', xTitle: 'Wind speed (m/s)  - ECMWF', yTitle: 'Wind speed (m/s)  - BUFR', thick: cThick, thin: cThin, dots: cDots, stats: statsC, tagX: 8 },
  { tag: 'd)', col: 1, row: 1, kind: 'dir', xTitle: 'Wind dir (deg)  - ECMWF', yTitle: 'Wind dir (deg)  - BUFR', thick: dThick, thin: dThin, dots: dDots, stats: statsD, tagX: 561 },
  { tag: 'e)', col: 0, row: 2, kind: 'speed', xTitle: 'Wind speed (m/s)  - ECMWF', yTitle: 'Wind speed (m/s)  - HDF', thick: eThick, thin: eThin, dots: eDots, stats: statsE, tagX: 8 },
  { tag: 'f)', col: 1, row: 2, kind: 'dir', xTitle: 'Wind dir (deg)  - ECMWF', yTitle: 'Wind dir (deg)  - HDF', thick: fThick, thin: fThin, dots: fDots, stats: statsF, tagX: 555 }
];

// box, inward tick marks and tick labels (IDL style)
const framePlugin = {
  id: 'frame',
  afterDatasetsDraw(chart, args, opts) {
    const { ctx, chartArea: a, scales: { x, y } } = chart;
    ctx.save();
    ctx.strokeStyle = '#000';
    ctx.lineWidth = 1.2;
    ctx.strokeRect(a.left, a.top, a.width, a.height);
    ctx.lineWidth = 1;
    const seg = (x0, y0, x1, y1) => { ctx.beginPath(); ctx.moveTo(x0, y0); ctx.lineTo(x1, y1); ctx.stroke(); };
    const marks = opts.labels.map(v => [v, 8]).concat(opts.minor.map(v => [v, 4]));
    marks.forEach(([v, len]) => {
      const px = x.getPixelForValue(v);
      const py = y.getPixelForValue(v);
      seg(px, a.bottom, px, a.bottom - len);
      seg(px, a.top, px, a.top + len);
      seg(a.left, py, a.left + len, py);
      seg(a.right, py, a.right - len, py);
    });
    ctx.fillStyle = '#000';
    ctx.font = '19.5px ' + FONT;
    ctx.textBaseline = 'middle';
    ctx.textAlign = 'center';
    opts.labels.forEach(v => ctx.fillText(String(v), x.getPixelForValue(v), a.bottom + 16.5));
    ctx.textAlign = 'right';
    // vertical labels are kept inside the extent of the axis
    opts.labels.forEach(v => {
      const py = Math.min(Math.max(y.getPixelForValue(v), a.top + 6), a.bottom - 7);
      ctx.fillText(String(v), a.left - opts.gap, py);
    });
    ctx.restore();
  }
};

function contour(points, width) {
  return {
    data: points.map(([x, y]) => ({ x, y })),
    showLine: true,
    borderColor: '#000',
    borderWidth: width,
    borderJoinStyle: 'round',
    borderCapStyle: 'round',
    pointRadius: 0,
    pointHoverRadius: 0,
    tension: 0,
    fill: false
  };
}

function addText(cls, left, top, text) {
  const d = document.createElement('div');
  d.className = cls;
  d.style.left = left + 'px';
  d.style.top = top + 'px';
  d.textContent = text;
  document.body.appendChild(d);
}

panels.forEach(p => {
  const max = p.kind === 'speed' ? speedMax : dirMax;
  const left = p.col === 0 ? 0 : 528;
  const width = p.col === 0 ? 528 : 551;
  const top = rowTop[p.row] - 70;
  const plotH = rowBottom[p.row] - rowTop[p.row];
  const height = 70 + plotH + 56;
  const titlePad = titleMid[p.row] - top - 13.75;

  const canvas = document.createElement('canvas');
  canvas.width = width;
  canvas.height = height;
  canvas.style.left = left + 'px';
  canvas.style.top = top + 'px';
  canvas.style.width = width + 'px';
  canvas.style.height = height + 'px';
  document.body.appendChild(canvas);

  const datasets = [contour([[0, 0], [max, max]], 1)];
  p.thin.forEach(c => datasets.push(contour(c, 1)));
  p.thick.forEach(c => datasets.push(contour(c, 2.8)));
  datasets.push({
    data: p.dots.map(([x, y]) => ({ x, y })),
    showLine: false,
    pointRadius: 2.3,
    pointBackgroundColor: '#000',
    pointBorderWidth: 0
  });

  const axisTitle = (text, pad) => ({
    display: true, text, color: '#000',
    font: { family: FONT, size: 22, lineHeight: 1 },
    padding: pad
  });

  new Chart(canvas, {
    type: 'scatter',
    data: { datasets },
    options: {
      responsive: false,
      animation: false,
      devicePixelRatio: 1,
      events: [],
      layout: { padding: { left: 0, right: width - 525, top: 0, bottom: 0 } },
      plugins: {
        legend: { display: false },
        tooltip: { enabled: false },
        title: {
          display: true, fullSize: false, text: 'WINDS HISTOGRAM', color: '#000',
          font: { family: FONT, size: 27.5, weight: 'normal', lineHeight: 1 },
          padding: { top: titlePad, bottom: 70 - titlePad - 27.5 }
        },
        frame: {
          labels: p.kind === 'speed' ? speedLabels : dirLabels,
          minor: p.kind === 'speed' ? speedMinor : dirMinor,
          gap: p.col === 0 ? 11 : 9
        }
      },
      scales: {
        x: {
          type: 'linear', min: 0, max,
          grid: { display: false, drawTicks: false },
          border: { display: false },
          ticks: { display: false },
          title: axisTitle(p.xTitle, { top: 0, bottom: 7.5 }),
          afterFit: s => { s.height = 56; }
        },
        y: {
          type: 'linear', min: 0, max,
          grid: { display: false, drawTicks: false },
          border: { display: false },
          ticks: { display: false },
          title: axisTitle(p.yTitle, { top: p.col === 0 ? 29.5 : 13.8, bottom: 0 }),
          afterFit: s => { s.width = 91; }
        }
      }
    },
    plugins: [framePlugin]
  });

  addText('tag', p.tagX, rowTop[p.row] - 40 - 26, p.tag);
  addText('stats', p.col === 0 ? 33 : 562, rowBottom[p.row] + 57.5, p.stats.join('\n'));
});
</script>
</body>
</html>
